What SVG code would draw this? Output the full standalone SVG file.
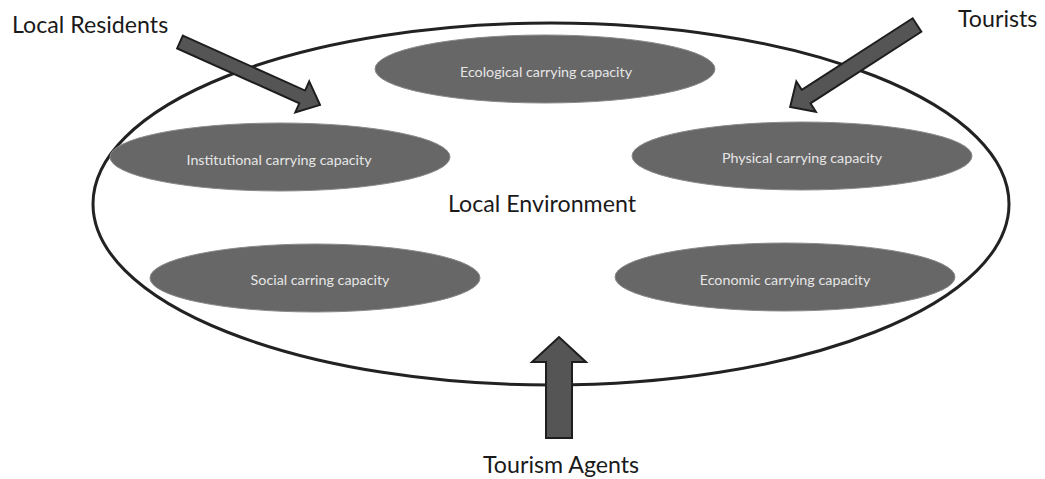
<svg xmlns="http://www.w3.org/2000/svg" width="1045" height="479" viewBox="0 0 1045 479">
  <style>
    .env { fill: none; stroke: #222; stroke-width: 3; }
    .cap { fill: #676767; stroke: #8a8a8a; stroke-width: 1; }
    .capt { font-family: Lato, "Liberation Sans", sans-serif; font-size: 14.3px; fill: #e6e6e6; text-anchor: middle; }
    .lbl { font-family: Lato, "Liberation Sans", sans-serif; font-size: 23.2px; fill: #1a1a1a; }
    .arrow { fill: #555; stroke: #1e1e1e; stroke-width: 2; stroke-linejoin: miter; }
  </style>
  <rect width="1045" height="479" fill="#fff"/>

  <g id="local-environment">
    <ellipse class="env" cx="551" cy="204" rx="458" ry="181"/>
    <text class="lbl" x="542" y="212" text-anchor="middle">Local Environment</text>
  </g>

  <g id="ecological">
    <ellipse class="cap" cx="545" cy="69" rx="170" ry="34"/>
    <text class="capt" x="546" y="77">Ecological carrying capacity</text>
  </g>
  <g id="institutional">
    <ellipse class="cap" cx="280" cy="157" rx="170" ry="34"/>
    <text class="capt" x="279" y="165">Institutional carrying  capacity</text>
  </g>
  <g id="physical">
    <ellipse class="cap" cx="802" cy="156" rx="170" ry="34"/>
    <text class="capt" x="802" y="163">Physical carrying capacity</text>
  </g>
  <g id="social">
    <ellipse class="cap" cx="315" cy="278" rx="165" ry="34"/>
    <text class="capt" x="320" y="285">Social carring capacity</text>
  </g>
  <g id="economic">
    <ellipse class="cap" cx="785" cy="277" rx="170" ry="34"/>
    <text class="capt" x="785" y="285">Economic carrying  capacity</text>
  </g>

  <g id="local-residents">
    <text class="lbl" x="12" y="33">Local Residents</text>
  </g>
  <g id="tourists">
    <text class="lbl" x="958" y="27">Tourists</text>
  </g>
  <g id="tourism-agents">
    <text class="lbl" x="483" y="473">Tourism Agents</text>
  </g>

  <g id="connectors">
    <polygon class="arrow" transform="translate(180,42) rotate(24.2)" points="0,-7 134,-7 134,-17 153.5,0 134,17 134,7 0,7"/>
    <polygon class="arrow" transform="translate(917,25) rotate(147.15)" points="0,-8 132,-8 132,-18 151,0 132,18 132,8 0,8"/>
    <polygon class="arrow" points="546,438 546,362 532,362 559,337 586,362 572,362 572,438"/>
  </g>
</svg>
